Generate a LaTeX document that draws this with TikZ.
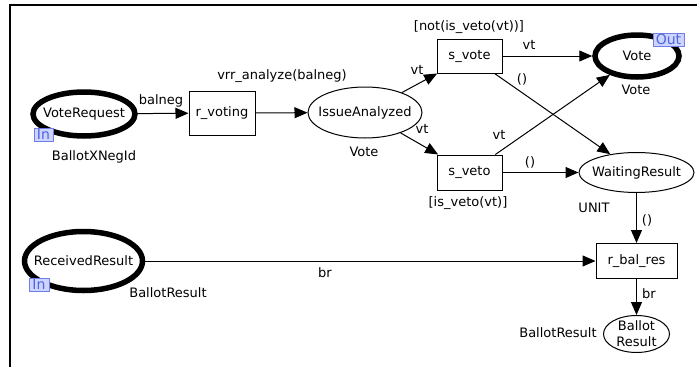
\documentclass[tikz,border=0pt]{standalone}
\usepackage{fontspec}
\setmainfont{DejaVu Sans}
\usetikzlibrary{shapes.geometric,arrows.meta}
\definecolor{tagfill}{RGB}{205,212,255}
\definecolor{tagdraw}{RGB}{110,125,235}
\definecolor{tagtext}{RGB}{80,100,220}
\begin{document}
\begin{tikzpicture}[x=1pt,y=-1pt,
  font=\fontsize{13}{15}\selectfont,
  place/.style={draw,ellipse,inner sep=0pt,line width=1pt},
  port/.style={place,line width=5.5pt},
  trans/.style={draw,rectangle,inner sep=0pt,line width=1pt},
  tagbox/.style={draw=tagdraw,fill=tagfill,text=tagtext,inner sep=0pt,line width=0.8pt,
    font=\fontsize{14}{14}\selectfont,minimum height=13pt,text height=10pt,text depth=1pt},
  arc/.style={line width=1pt,-{Triangle[length=13pt,width=11pt]}},
  lbl/.style={inner sep=0pt}]
\useasboundingbox (0,0) rectangle (697,367);
\draw[line width=1.2pt] (10,367) -- (10,5) -- (697,5);

% places and transitions
\node[port,minimum width=102pt,minimum height=44pt,label=center:VoteRequest] (vr) at (84,114) {};
\node[trans,minimum width=66pt,minimum height=44pt] (rv) at (222,113) {r\_voting};
\node[place,minimum width=114pt,minimum height=51pt,label=center:IssueAnalyzed] (ia) at (365,112.5) {};
\node[trans,minimum width=65pt,minimum height=34pt] (sv) at (469.5,56) {s\_vote};
\node[trans,minimum width=65pt,minimum height=35pt] (sx) at (469.5,172.5) {s\_veto};
\node[port,minimum width=84pt,minimum height=42pt,label=center:Vote] (vo) at (637,56) {};
\node[place,minimum width=115pt,minimum height=40pt,label=center:WaitingResult] (wr) at (636.5,172.5) {};
\node[trans,minimum width=81pt,minimum height=35pt] (rb) at (636.5,261) {r\_bal\_res};
\node[port,minimum width=118pt,minimum height=59pt,label=center:ReceivedResult] (rr) at (83.5,261) {};
\node[place,minimum width=66pt,minimum height=37pt,
  label={[align=center,font=\fontsize{13}{16}\selectfont]center:Ballot\\Result}] (bres) at (636.5,334) {};

% port tags
\node[tagbox,minimum width=19pt] (tvr) at (43.5,135) {In};
\node[tagbox,minimum width=20pt] (trr) at (39,284.5) {In};
\node[tagbox,minimum width=31pt] (tvo) at (668.5,39.5) {Out};

% arcs
\draw[arc] (vr) -- (rv);
\draw[arc] (rv) -- (ia);
\draw[arc] (ia) -- (sv);
\draw[arc] (ia) -- (sx);
\draw[arc] (sv) -- (vo);
\draw[arc] (sv) -- (wr);
\draw[arc] (sx) -- (vo);
\draw[arc] (sx) -- (wr);
\draw[arc] (wr) -- (rb);
\draw[arc] (rr) -- (rb);
\draw[arc] (rb) -- (bres);

% inscriptions
\node[lbl] (l1) at (161,101) {balneg};
\node[lbl] (l2) at (282,76) {vrr\_analyze(balneg)};
\node[lbl] (l3) at (94,157) {BallotXNegId};
\node[lbl] (l4) at (364,152) {Vote};
\node[lbl] (l5) at (417,70) {vt};
\node[lbl] (l6) at (422,129) {vt};
\node[lbl] (l7) at (469,27) {[not(is\_veto(vt))]};
\node[lbl] (l8) at (468,203) {[is\_veto(vt)]};
\node[lbl] (l9) at (529,45) {vt};
\node[lbl] (l10) at (522,79) {()};
\node[lbl] (l11) at (499,135) {vt};
\node[lbl] (l12) at (530,162) {()};
\node[lbl] (l13) at (636,90) {Vote};
\node[lbl] (l14) at (594,208) {UNIT};
\node[lbl] (l15) at (647,220) {()};
\node[lbl] (l16) at (325,273) {br};
\node[lbl] (l17) at (168,293) {BallotResult};
\node[lbl] (l18) at (649,294) {br};
\node[lbl] (l19) at (558,333) {BallotResult};
\end{tikzpicture}
\end{document}
